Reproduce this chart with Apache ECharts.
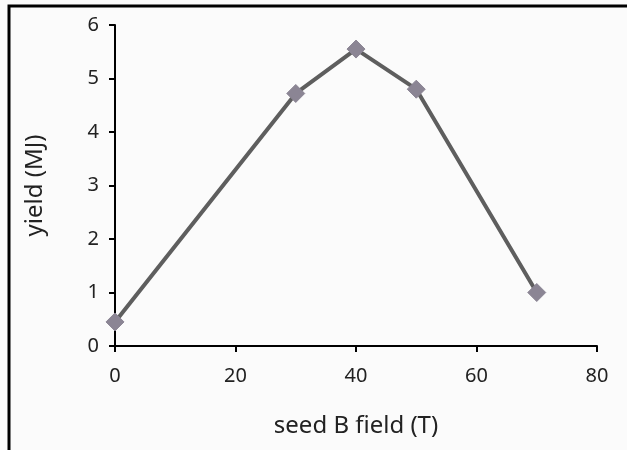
<!DOCTYPE html>
<html>
<head>
<meta charset="utf-8">
<script src="https://cdn.jsdelivr.net/npm/echarts@6/dist/echarts.min.js"></script>
<style>
  html, body { margin: 0; padding: 0; background: #fff; }
  #chart { width: 627px; height: 450px; }
</style>
</head>
<body>
<div id="chart"></div>
<script>
// seed B field (T) vs yield (MJ)
const fieldT = [0, 30, 40, 50, 70];
const yieldMJ = [0.45, 4.72, 5.55, 4.8, 1.0];

const chart = echarts.init(document.getElementById('chart'));
const font = 'Noto Sans';

chart.setOption({
  backgroundColor: '#fbfbfb',
  animation: false,
  graphic: [{
    type: 'rect',
    shape: { x: 9, y: 6, width: 640, height: 470 },
    style: { fill: 'none', stroke: '#000', lineWidth: 3 },
    silent: true
  }],
  grid: { left: 115, right: 30, top: 25, bottom: 104 },
  xAxis: {
    type: 'value',
    min: 0, max: 80, interval: 20,
    name: 'seed B field (T)',
    nameLocation: 'middle',
    nameGap: 68,
    nameTextStyle: { fontFamily: font, fontSize: 24, color: '#222' },
    axisLine: { show: true, onZero: false, lineStyle: { color: '#000', width: 2 } },
    axisTick: { show: true, length: 6, lineStyle: { color: '#000', width: 2 } },
    axisLabel: { fontFamily: font, fontSize: 20, color: '#222', margin: 20 },
    splitLine: { show: false }
  },
  yAxis: {
    type: 'value',
    min: 0, max: 6, interval: 1,
    name: 'yield (MJ)',
    nameLocation: 'middle',
    nameGap: 68,
    nameTextStyle: { fontFamily: font, fontSize: 24, color: '#222' },
    axisLine: { show: true, lineStyle: { color: '#000', width: 2 } },
    axisTick: { show: true, length: 6, lineStyle: { color: '#000', width: 2 } },
    axisLabel: { fontFamily: font, fontSize: 20, color: '#222', margin: 16 },
    splitLine: { show: false }
  },
  series: [{
    type: 'line',
    data: fieldT.map((x, i) => [x, yieldMJ[i]]),
    symbol: 'diamond',
    symbolSize: 18,
    lineStyle: { color: '#5e5e5e', width: 4 },
    itemStyle: { color: '#8b8594', borderColor: '#8b8594' }
  }]
});
</script>
</body>
</html>
